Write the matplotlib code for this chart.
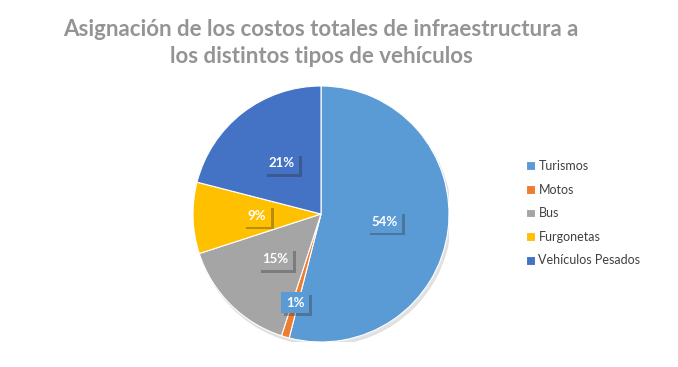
import numpy as np
import matplotlib
matplotlib.use("Agg")
import matplotlib.pyplot as plt
import matplotlib.patheffects as pe
from matplotlib.patches import Circle

# datos
categorias = ["Turismos", "Motos", "Bus", "Furgonetas", "Vehículos Pesados"]
porcentajes = [54, 1, 15, 9, 21]
colores = ["#5B9BD5", "#ED7D31", "#A5A5A5", "#FFC000", "#4472C4"]
# color de caja de cada etiqueta (el 1% cae sobre Turismos)
colores_caja = ["#5B9BD5", "#5B9BD5", "#A5A5A5", "#FFC000", "#4472C4"]
titulo = "Asignación de los costos totales de infraestructura a\nlos distintos tipos de vehículos"

plt.rcParams["font.family"] = ["Lato", "DejaVu Sans"]

fig = plt.figure(figsize=(6.78, 3.67), dpi=100, facecolor="white")

# pie centrado en (321, 214) px con radio ~128 px
cx, cy, r = 321, 214, 128
W, H = 678, 367
ax = fig.add_axes([(cx - r) / W, (H - cy - r) / H, 2 * r / W, 2 * r / H])

# sombra suave
ax.add_patch(Circle((0.015, -0.025), 1.0, color="#dcdcdc", alpha=0.8, zorder=0))

wedges, _ = ax.pie(porcentajes, colors=colores, startangle=90, counterclock=False,
                   radius=1.0, wedgeprops=dict(linewidth=0.8, edgecolor="white"))
for w in wedges:
    w.set_zorder(1)
ax.set_xlim(-1.0, 1.0)
ax.set_ylim(-1.0, 1.0)
ax.axis("off")

# etiquetas con caja y sombra
for w, p, c in zip(wedges, porcentajes, colores_caja):
    ang = np.deg2rad((w.theta1 + w.theta2) / 2)
    d = 0.72 if p < 3 else 0.5
    x, y = d * np.cos(ang), d * np.sin(ang)
    t = ax.text(x, y, f"{p}%", ha="center", va="center", color="white",
                fontsize=9.5, fontweight="bold", zorder=3,
                bbox=dict(boxstyle="square,pad=0.35", facecolor=c, edgecolor="none"))
    t.get_bbox_patch().set_path_effects([
        pe.SimplePatchShadow(offset=(2, -2), shadow_rgbFace="#303030", alpha=0.35),
        pe.Normal()])

fig.text(321 / W, 1 - 43 / H, titulo, ha="center", va="center", fontsize=16,
         fontweight="bold", color="#949494", linespacing=1.3)

# leyenda
leg = fig.legend(wedges, categorias, loc="upper left", bbox_to_anchor=(521 / W, 1 - 155 / H),
                 frameon=False, fontsize=9, handlelength=0.7, handleheight=0.7,
                 handletextpad=0.3, labelspacing=0.93, borderaxespad=0)
for txt in leg.get_texts():
    txt.set_color("#404040")

fig.savefig("out.png", dpi=100, facecolor="white")
